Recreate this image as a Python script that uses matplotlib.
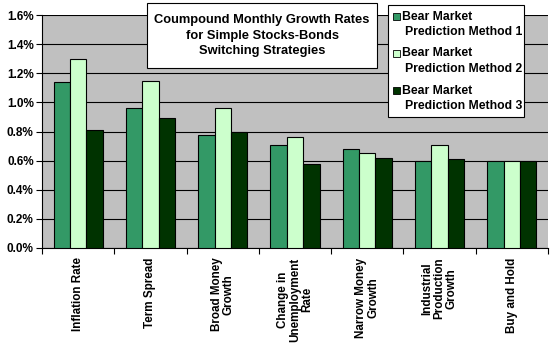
import numpy as np
import matplotlib.pyplot as plt
from matplotlib.patches import Rectangle
from matplotlib.ticker import FuncFormatter

plt.rcParams["font.family"] = ["Liberation Sans", "DejaVu Sans"]
plt.rcParams["font.weight"] = "bold"

CATEGORIES = [
    "Inflation Rate",
    "Term Spread",
    "Broad Money\nGrowth",
    "Change in\nUnemployment\nRate",
    "Narrow Money\nGrowth",
    "Industrial\nProduction\nGrowth",
    "Buy and Hold",
]
METHOD_1 = [1.14, 0.96, 0.775, 0.71, 0.68, 0.595, 0.595]
METHOD_2 = [1.30, 1.15, 0.96, 0.76, 0.65, 0.71, 0.595]
METHOD_3 = [0.81, 0.89, 0.795, 0.58, 0.62, 0.61, 0.595]
SERIES_NAMES = [
    "Bear Market\nPrediction Method 1",
    "Bear Market\nPrediction Method 2",
    "Bear Market\nPrediction Method 3",
]
COLORS = ["#339966", "#CCFFCC", "#003300"]
TITLE = "Coumpound Monthly Growth Rates\nfor Simple Stocks-Bonds\nSwitching Strategies"

W, H = 550, 350


def fx(px):
    return px / W


def fy(py):
    return 1 - py / H


fig = plt.figure(figsize=(5.5, 3.5), dpi=100)
ax = fig.add_axes([fx(42), fy(248), 506 / W, 233 / H])
ax.set_facecolor("#C0C0C0")

x = np.arange(len(CATEGORIES))
width = 0.227
for i, (vals, col) in enumerate(zip([METHOD_1, METHOD_2, METHOD_3], COLORS)):
    ax.bar(x + (i - 1) * width, vals, width, color=col, edgecolor="black",
           linewidth=0.8, zorder=3)

ax.set_xlim(-0.5, len(CATEGORIES) - 0.5)
ax.set_ylim(0, 1.6)
ax.set_yticks(np.arange(0, 1.61, 0.2))
ax.yaxis.set_major_formatter(FuncFormatter(lambda v, p: f"{v:.1f}%"))
ax.grid(axis="y", color="black", linewidth=0.8, zorder=1)
ax.tick_params(axis="y", labelsize=8.5, length=4, width=0.8, pad=2)

# ticks between categories, labels at centers
ax.set_xticks(np.arange(-0.5, len(CATEGORIES), 1.0))
ax.set_xticklabels([])
ax.tick_params(axis="x", length=4, width=0.8)
for xi, lab in zip(x, CATEGORIES):
    ax.text(xi, -0.065, lab, rotation=90, ha="center", va="top",
            multialignment="center", fontsize=8.4, fontweight="bold",
            linespacing=1.0, clip_on=False)

for s in ["top", "right"]:
    ax.spines[s].set_visible(False)
ax.spines["left"].set_linewidth(0.8)
ax.spines["bottom"].set_linewidth(0.8)

# title box
fig.patches.append(Rectangle((fx(147), fy(68)), 230 / W, 65 / H, transform=fig.transFigure,
                             facecolor="white", edgecolor="black", linewidth=0.8, zorder=10))
fig.text(fx(262), fy(35.5), TITLE, ha="center", va="center", fontsize=9.3,
         fontweight="bold", multialignment="center", linespacing=1.4, zorder=11)

# legend box
fig.patches.append(Rectangle((fx(388), fy(117)), 136 / W, 112 / H, transform=fig.transFigure,
                             facecolor="white", edgecolor="black", linewidth=0.8, zorder=10))
for i, (name, col) in enumerate(zip(SERIES_NAMES, COLORS)):
    top = 9 + i * 37
    fig.patches.append(Rectangle((fx(393), fy(top + 11)), 7 / W, 7 / H, transform=fig.transFigure,
                                 facecolor=col, edgecolor="black", linewidth=0.6, zorder=11))
    line1, line2 = name.split("\n")
    fig.text(fx(402), fy(top + 7.5), line1, ha="left", va="center", fontsize=8.8,
             fontweight="bold", zorder=11)
    fig.text(fx(405), fy(top + 23), line2, ha="left", va="center", fontsize=8.8,
             fontweight="bold", zorder=11)

fig.savefig("out.png", dpi=100, facecolor="white")
